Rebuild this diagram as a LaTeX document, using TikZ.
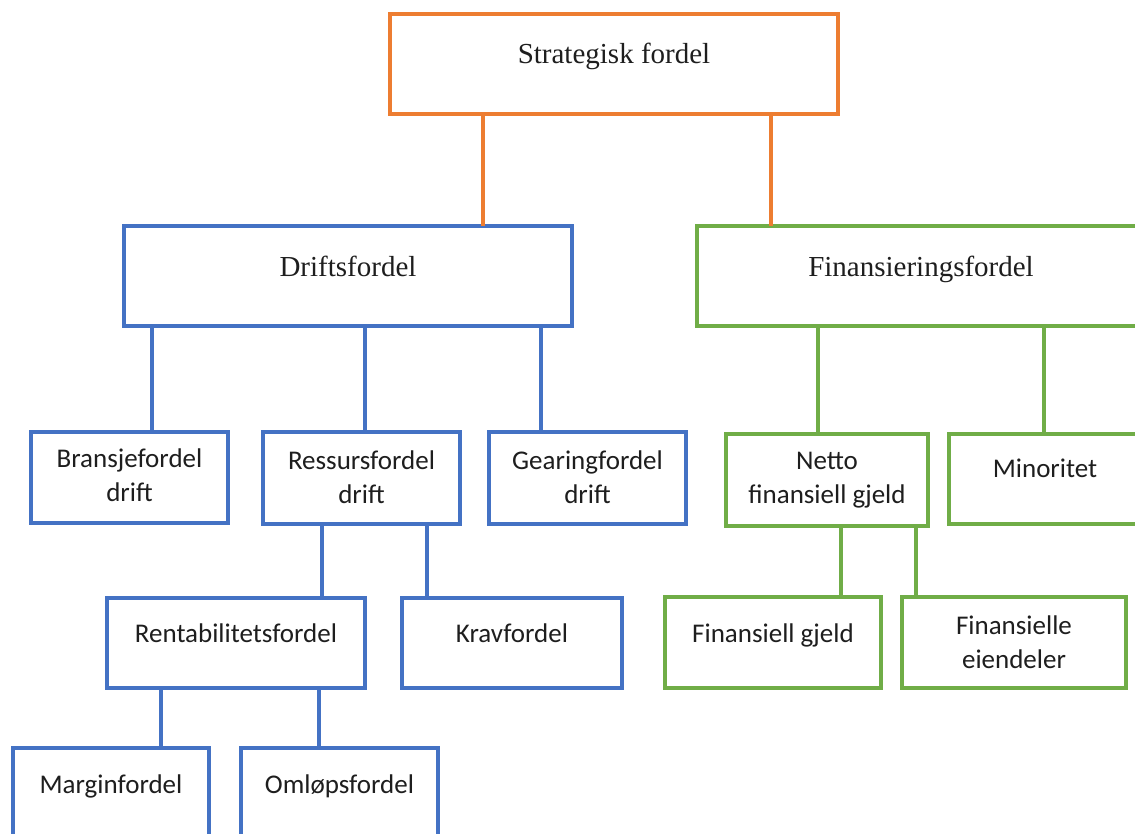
\documentclass[tikz,border=0pt]{standalone}
\usepackage{fontspec}
\newfontfamily\headfont{Liberation Serif}
\newfontfamily\bodyfont{Carlito}
\definecolor{orangeline}{HTML}{ED7D31}
\definecolor{blueline}{HTML}{4472C4}
\definecolor{greenline}{HTML}{70AD47}
\definecolor{ink}{HTML}{1E1E1E}
\begin{document}
\begin{tikzpicture}[x=1pt,y=-1pt,
  frame/.style={draw, line width=3.2pt, inner sep=0pt, outer sep=0pt},
  obox/.style={frame, draw=orangeline},
  bbox/.style={frame, draw=blueline},
  gbox/.style={frame, draw=greenline},
  olink/.style={draw=orangeline, line width=3.2pt},
  blink/.style={draw=blueline, line width=3.2pt},
  glink/.style={draw=greenline, line width=3.2pt},
  headtxt/.style={anchor=base, inner sep=0pt, text=ink, font=\headfont\fontsize{29}{34}\selectfont},
  bodytxt/.style={anchor=base, inner sep=0pt, text=ink, align=center, font=\bodyfont\fontsize{27}{34}\selectfont}]
\useasboundingbox (0,0) rectangle (1135,834);
\fill[white] (0,0) rectangle (1135,834);
\clip (0,0) rectangle (1135,834);

% top level
\node[obox, minimum width=448pt, minimum height=100pt] (strat) at (614,64) {};
\node[headtxt] (stratT) at (614,64) {Strategisk fordel};

% second level
\node[bbox, minimum width=448pt, minimum height=100pt] (drift) at (348,276) {};
\node[headtxt] (driftT) at (348,277) {Driftsfordel};
\node[gbox, minimum width=448pt, minimum height=100pt] (fin) at (921,276) {};
\node[headtxt] (finT) at (921,277) {Finansieringsfordel};

% third level (two-line labels are placed by the baseline of their last line)
\node[bbox, minimum width=197pt, minimum height=91pt] (bransje) at (129.5,477.5) {};
\node[bodytxt] (bransjeT) at (129.5,501) {Bransjefordel\\drift};
\node[bbox, minimum width=197pt, minimum height=92pt] (ressurs) at (361.5,478) {};
\node[bodytxt] (ressursT) at (361.5,503) {Ressursfordel\\drift};
\node[bbox, minimum width=197pt, minimum height=92pt] (gearing) at (587.5,478) {};
\node[bodytxt] (gearingT) at (587.5,503) {Gearingfordel\\drift};
\node[gbox, minimum width=202pt, minimum height=92pt] (netto) at (827,480) {};
\node[bodytxt] (nettoT) at (827,503) {Netto\\finansiell gjeld};
\node[gbox, minimum width=201pt, minimum height=90pt] (minor) at (1049.5,479) {};
\node[bodytxt] (minorT) at (1045,477) {Minoritet};

% fourth level
\node[bbox, minimum width=258pt, minimum height=90pt] (rentab) at (236,643) {};
\node[bodytxt] (rentabT) at (236,642) {Rentabilitetsfordel};
\node[bbox, minimum width=220pt, minimum height=90pt] (krav) at (512,643) {};
\node[bodytxt] (kravT) at (512,642) {Kravfordel};
\node[gbox, minimum width=216pt, minimum height=91pt] (fgjeld) at (773,642.5) {};
\node[bodytxt] (fgjeldT) at (773,642) {Finansiell gjeld};
\node[gbox, minimum width=224pt, minimum height=91pt] (feiend) at (1014,642.5) {};
\node[bodytxt] (feiendT) at (1014,668) {Finansielle\\eiendeler};

% fifth level
\node[bbox, minimum width=196pt, minimum height=92pt] (margin) at (111,794) {};
\node[bodytxt] (marginT) at (111,793) {Marginfordel};
\node[bbox, minimum width=197pt, minimum height=92pt] (omlop) at (339.5,794) {};
\node[bodytxt] (omlopT) at (339.5,793) {Omløpsfordel};

% connectors
\path[olink] (strat.south -| 483,0) -- (drift.north -| 483,0);
\path[olink] (strat.south -| 771,0) -- (fin.north -| 771,0);
\path[blink] (drift.south -| 152,0) -- (bransje.north -| 152,0);
\path[blink] (drift.south -| 365,0) -- (ressurs.north -| 365,0);
\path[blink] (drift.south -| 541,0) -- (gearing.north -| 541,0);
\path[glink] (fin.south -| 818,0) -- (netto.north -| 818,0);
\path[glink] (fin.south -| 1044,0) -- (minor.north -| 1044,0);
\path[blink] (ressurs.south -| 322,0) -- (rentab.north -| 322,0);
\path[blink] (ressurs.south -| 427,0) -- (krav.north -| 427,0);
\path[glink] (netto.south -| 841,0) -- (fgjeld.north -| 841,0);
\path[glink] (netto.south -| 916,0) -- (feiend.north -| 916,0);
\path[blink] (rentab.south -| 161,0) -- (margin.north -| 161,0);
\path[blink] (rentab.south -| 319,0) -- (omlop.north -| 319,0);
\end{tikzpicture}
\end{document}
